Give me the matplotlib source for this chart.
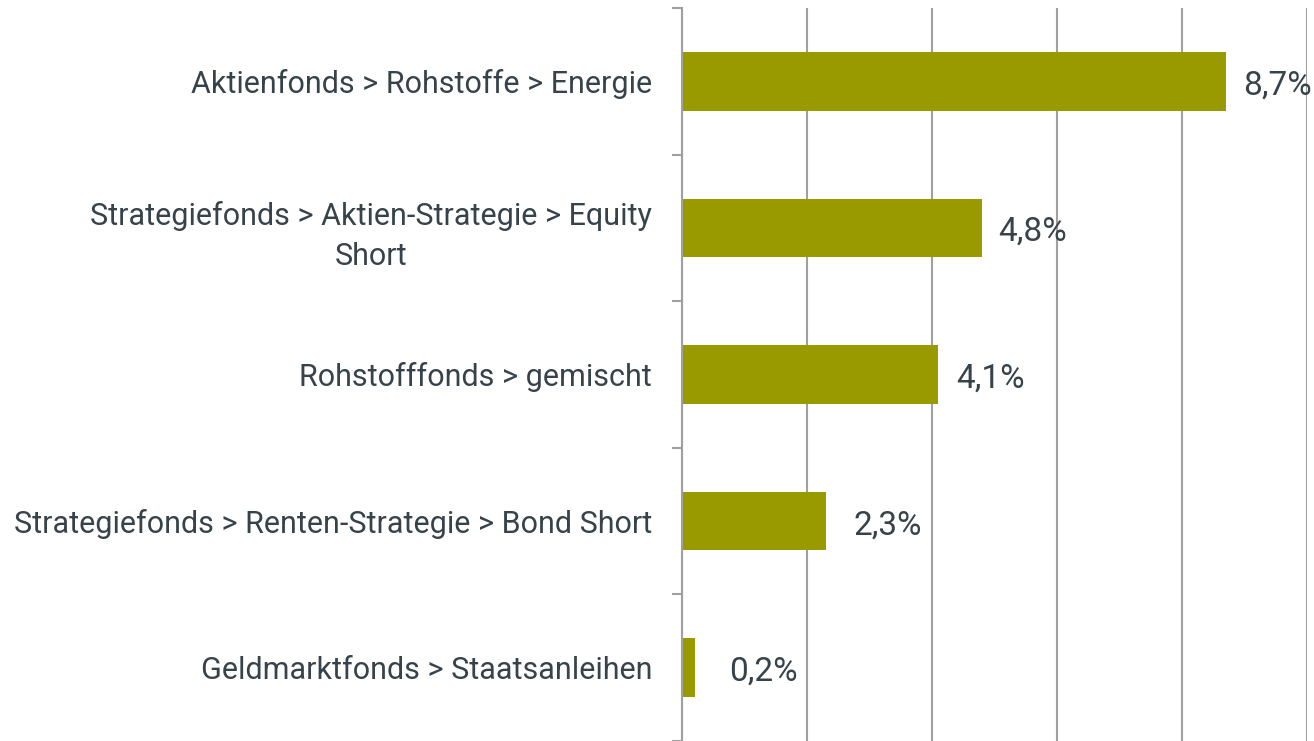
import matplotlib
matplotlib.use("Agg")
import matplotlib.pyplot as plt
from matplotlib import font_manager

categories = [
    "Aktienfonds > Rohstoffe > Energie",
    "Strategiefonds > Aktien-Strategie > Equity\nShort",
    "Rohstofffonds > gemischt",
    "Strategiefonds > Renten-Strategie > Bond Short",
    "Geldmarktfonds > Staatsanleihen",
]
values = [8.7, 4.8, 4.1, 2.3, 0.2]
value_labels = ["8,7%", "4,8%", "4,1%", "2,3%", "0,2%"]
label_offsets_px = [17, 16, 18, 28, 35]
xticks = [0, 2, 4, 6, 8, 10]

plt.rcParams["font.family"] = ["Roboto", "DejaVu Sans"]

W, H, DPI = 1314, 741, 100
fig = plt.figure(figsize=(W / DPI, H / DPI), dpi=DPI)
ax = fig.add_axes([682 / W, 0, (1307 - 682) / W, (741 - 8) / H])

text_color = "#37434a"
bar_color = "#999900"
grid_color = "#a0a0a0"

ypos = list(range(len(categories)))
ax.barh(ypos, values, height=0.4, color=bar_color, zorder=3)
ax.set_xlim(0, 10)
ax.set_ylim(len(categories) - 0.5, -0.5)

ax.set_xticks(xticks)
ax.xaxis.grid(True, color=grid_color, linewidth=1.5, zorder=0)
ax.tick_params(axis="x", length=0, labelbottom=False)

ax.set_yticks(ypos)
ax.set_yticklabels(categories, fontsize=22, color=text_color)
for t in ax.get_yticklabels():
    t.set_multialignment("center")
    t.set_linespacing(1.45)
ax.tick_params(axis="y", which="major", length=0, pad=21.5)
ax.set_yticks([i - 0.5 for i in range(len(categories) + 1)], minor=True)
ax.tick_params(axis="y", which="minor", length=7.2, width=1.5, color=grid_color)

for s in ["top", "right", "bottom"]:
    ax.spines[s].set_visible(False)
ax.spines["left"].set_color(grid_color)
ax.spines["left"].set_linewidth(1.5)
ax.spines["left"].set_zorder(4)

for y, v, lab, off in zip(ypos, values, value_labels, label_offsets_px):
    ax.annotate(lab, xy=(v, y), xytext=(off * 0.72, -3), textcoords="offset points",
                ha="left", va="center", fontsize=24, color=text_color, annotation_clip=False)

fig.savefig("out.png", dpi=DPI)
